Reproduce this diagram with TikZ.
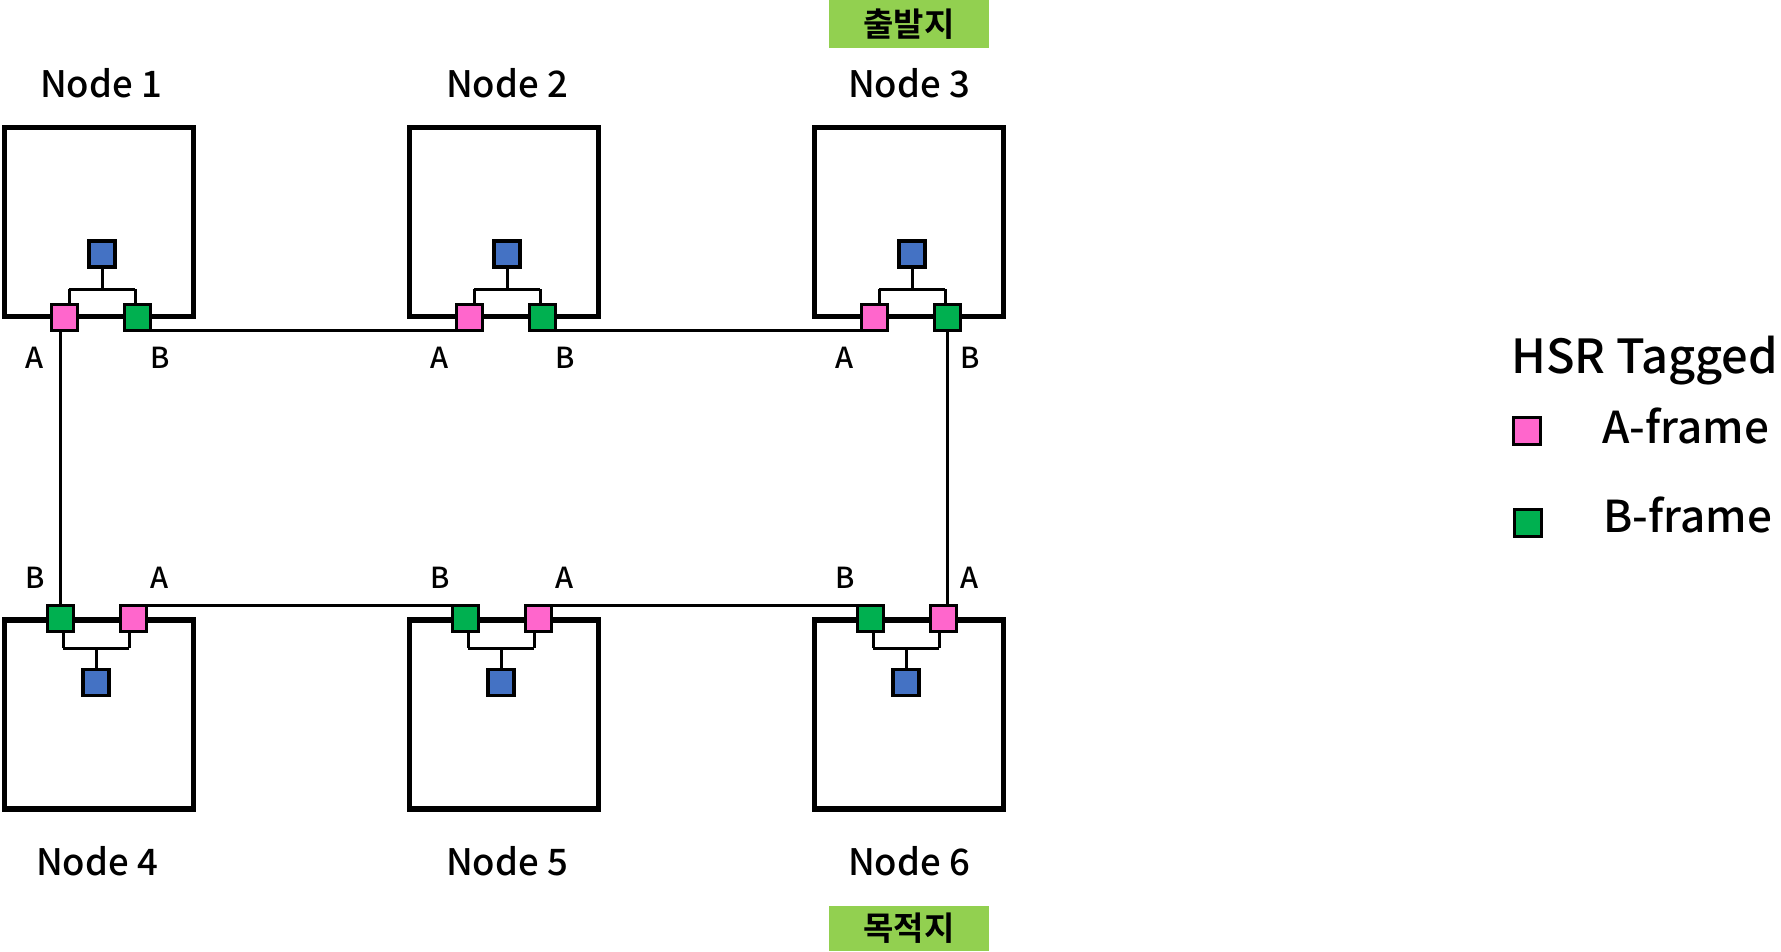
\documentclass[tikz,border=0pt]{standalone}
\usepackage{fontspec}
\setmainfont{Noto Sans CJK KR Medium}[BoldFont=Noto Sans CJK KR Bold]
\definecolor{pinkA}{HTML}{FF66CC}
\definecolor{greenB}{HTML}{00B050}
\definecolor{blueH}{HTML}{4472C4}
\definecolor{limeK}{HTML}{92D050}
\newcommand\fsTitle{\fontsize{36.5pt}{44pt}\selectfont}
\newcommand\fsLegT{\fontsize{47pt}{56pt}\selectfont}
\newcommand\fsLeg{\fontsize{44pt}{52pt}\selectfont}
\newcommand\fsPort{\fontsize{29pt}{34pt}\selectfont}
\newcommand\fsKor{\fontsize{33pt}{40pt}\selectfont\bfseries}
\tikzset{
  hbox/.style={draw, line width=5.3pt, minimum width=189pt, minimum height=189pt, inner sep=0pt, outer sep=0pt},
  port/.style={draw, line width=3.3pt, minimum size=26pt, inner sep=0pt, outer sep=0pt},
  pa/.style={port, fill=pinkA},
  pb/.style={port, fill=greenB},
  ph/.style={port, fill=blueH},
  wire/.style={line width=3pt},
  title/.style={font=\fsTitle, anchor=base, inner sep=0pt},
  plabel/.style={font=\fsPort, anchor=base, inner sep=0pt},
  kbox/.style={fill=limeK, minimum width=160pt, inner sep=0pt, font=\fsKor},
  legtext/.style={font=\fsLeg, anchor=base west, inner sep=0pt}
}
\begin{document}
\begin{tikzpicture}[x=1pt, y=-1pt]
\useasboundingbox (0,0) rectangle (1781,951);
% boxes
\foreach \i/\c in {1/99, 2/504, 3/909} {
  \node[hbox] (box\i) at (\c,222) {};
}
\foreach \i/\c in {4/99, 5/504, 6/909} {
  \node[hbox] (box\i) at (\c,714.5) {};
}
% top row ports
\foreach \i/\c in {1/99, 2/504, 3/909} {
  \node[pa] (n\i a) at (\c-34.5,317.5) {};
  \node[pb] (n\i b) at (\c+38.5,317.5) {};
  \node[ph] (n\i h) at (\c+3,254) {};
  \coordinate (n\i br) at (\c+3,289);
  \draw[wire] (n\i h.south) -- (n\i br) ++(-33,0) coordinate (n\i l) -- ++(66,0) coordinate (n\i r);
  \draw[wire] (n\i l) -- (n\i l |- n\i a.north);
  \draw[wire] (n\i r) -- (n\i r |- n\i b.north);
  \node[plabel] (la\i) at (\c-64,368) {A};
  \node[plabel] (lb\i) at (\c+61,368) {B};
}
% bottom row ports
\foreach \i/\c in {4/99, 5/504, 6/909} {
  \node[pb] (n\i b) at (\c-38.5,618.5) {};
  \node[pa] (n\i a) at (\c+34.5,618.5) {};
  \node[ph] (n\i h) at (\c-3,682.5) {};
  \coordinate (n\i br) at (\c-3,648);
  \draw[wire] (n\i h.north) -- (n\i br) ++(-33,0) coordinate (n\i l) -- ++(66,0) coordinate (n\i r);
  \draw[wire] (n\i l) -- (n\i l |- n\i b.south);
  \draw[wire] (n\i r) -- (n\i r |- n\i a.south);
  \node[plabel] (lb\i) at (\c-64,588) {B};
  \node[plabel] (la\i) at (\c+61,588) {A};
}
% ring connections
\draw[wire] (n1b.south east) -- (n2a.south west);
\draw[wire] (n2b.south east) -- (n3a.south west);
\draw[wire] (n4a.north east) -- (n5b.north west);
\draw[wire] (n5a.north east) -- (n6b.north west);
\draw[wire] (n4b.north |- n1a.south) -- (n4b.north);
\draw[wire] (n3b.south) -- (n3b.south |- n6a.north);
% titles
\node[title] (t1) at (101,97) {Node 1};
\node[title] (t2) at (507,97) {Node 2};
\node[title] (t3) at (909,97) {Node 3};
\node[title] (t4) at (97,875) {Node 4};
\node[title] (t5) at (507,875) {Node 5};
\node[title] (t6) at (909,875) {Node 6};
% source / destination
\node[kbox, minimum height=48pt] (src) at (909,24) {출발지};
\node[kbox, minimum height=45pt] (dst) at (909,928.5) {목적지};
% legend
\node[legtext, font=\fsLegT] (legt) at (1511,373) {HSR Tagged};
\node[port, fill=pinkA, minimum size=27pt] (lega) at (1527,431) {};
\node[port, fill=greenB, minimum size=27pt] (legb) at (1528,523) {};
\node[legtext] (legat) at (1602,443) {A-frame};
\node[legtext] (legbt) at (1603,532) {B-frame};
\end{tikzpicture}
\end{document}
